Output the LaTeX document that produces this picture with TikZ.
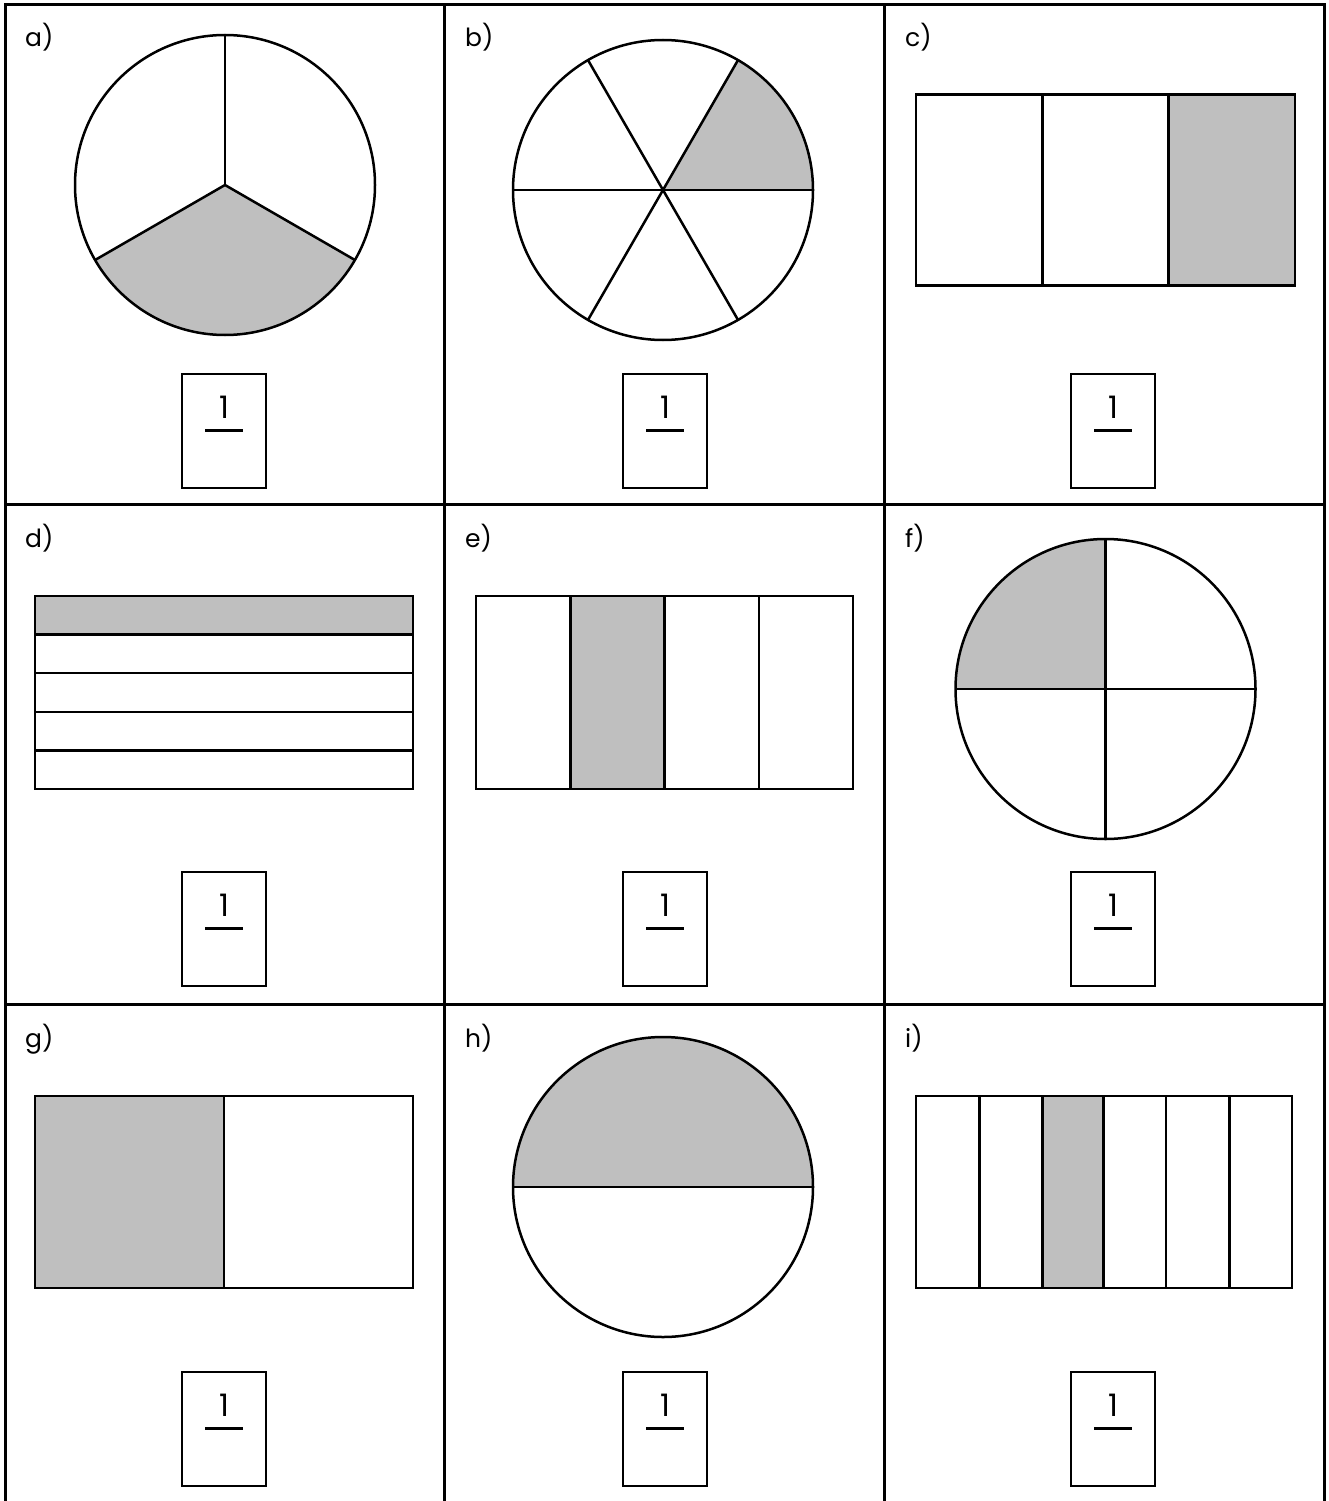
\documentclass[tikz,border=0pt]{standalone}
\usepackage{fontspec}
\setmainfont{Poppins}
\usetikzlibrary{calc}
\begin{document}
\begin{tikzpicture}[x=1pt,y=-1pt,
  grid/.style={line width=3pt},
  shp/.style={line width=2.5pt, line join=miter},
  shade/.style={fill=shadegray},
  lbl/.style={anchor=base west, inner sep=0pt, font=\fontsize{25}{30}\selectfont},
  ansbox/.style={draw, line width=2.5pt, minimum width=84pt, minimum height=114pt, inner sep=0pt},
  digit/.style={anchor=base, inner sep=0pt, font=\fontsize{31}{36}\selectfont}
]
\definecolor{shadegray}{RGB}{191,191,191}
\useasboundingbox (0,0) rectangle (1328,1501);
\fill[white] (0,0) rectangle (1328,1501);
% grid
\draw[grid] (5,1510) -- (5,5) -- (1324.5,5) -- (1324.5,1510);
\draw[grid] (444.5,5) -- (444.5,1510);
\draw[grid] (884.5,5) -- (884.5,1510);
\draw[grid] (5,504.5) -- (1324.5,504.5);
\draw[grid] (5,1004.5) -- (1324.5,1004.5);
% labels
\node[lbl] (la) at (25,47) {a)};
\node[lbl] (lb) at (465,47) {b)};
\node[lbl] (lc) at (905,47) {c)};
\node[lbl] (ld) at (25,547) {d)};
\node[lbl] (le) at (465,547) {e)};
\node[lbl] (lf) at (905,547) {f)};
\node[lbl] (lg) at (25,1047) {g)};
\node[lbl] (lh) at (465,1047) {h)};
\node[lbl] (li) at (905,1047) {i)};
% answer boxes
\foreach \cx/\nm in {224/a,665/b,1113/c}{
  \foreach \ry/\rn in {0/1,498/2,998/3}{
    \node[ansbox] (box\nm\rn) at (\cx,431+\ry) {};
    \node[digit] (dig\nm\rn) at (\cx,418+\ry) {1};
    \draw[line width=2.5pt] (\cx-19,430.5+\ry) -- (\cx+19,430.5+\ry);
  }
}
% a) thirds circle
\coordinate (ca) at (225,185);
\fill[shade] (ca) -- ++(150:150) arc[start angle=150, end angle=30, radius=150] -- cycle;
\draw[shp] (ca) circle[radius=150];
\draw[shp] (ca) -- ++(270:150);
\draw[shp] (ca) -- ++(150:150);
\draw[shp] (ca) -- ++(30:150);
% b) sixths circle
\coordinate (cb) at (663,190);
\fill[shade] (cb) -- ++(0:150) arc[start angle=0, end angle=-60, radius=150] -- cycle;
\draw[shp] (cb) circle[radius=150];
\draw[shp] ($(cb)+(0:150)$) -- ($(cb)+(180:150)$);
\draw[shp] ($(cb)+(60:150)$) -- ($(cb)+(240:150)$);
\draw[shp] ($(cb)+(120:150)$) -- ($(cb)+(300:150)$);
% c) thirds rectangle
\fill[shade] (1168.7,94.3) rectangle (1295,285.7);
\draw[shp] (916,94.3) rectangle (1295,285.7);
\draw[shp] (1042.7,94.3) -- (1042.7,285.7);
\draw[shp] (1168.7,94.3) -- (1168.7,285.7);
% d) fifths horizontal
\fill[shade] (35,596) rectangle (413,634.6);
\draw[shp] (35,596) rectangle (413,789);
\foreach \yy in {634.6,673.2,711.8,750.4}{\draw[shp] (35,\yy) -- (413,\yy);}
% e) quarters rectangle
\fill[shade] (570.25,596) rectangle (664.5,789);
\draw[shp] (476,596) rectangle (853,789);
\foreach \xx in {570.25,664.5,758.75}{\draw[shp] (\xx,596) -- (\xx,789);}
% f) quarters circle
\coordinate (cf) at (1105.5,689);
\fill[shade] (cf) -- ++(180:150) arc[start angle=180, end angle=270, radius=150] -- cycle;
\draw[shp] (cf) circle[radius=150];
\draw[shp] ($(cf)+(0:150)$) -- ($(cf)+(180:150)$);
\draw[shp] ($(cf)+(90:150)$) -- ($(cf)+(270:150)$);
% g) halves rectangle
\fill[shade] (35,1096) rectangle (224,1288);
\draw[shp] (35,1096) rectangle (413,1288);
\draw[shp] (224,1096) -- (224,1288);
% h) halves circle
\coordinate (ch) at (663,1187);
\fill[shade] (ch) ++(180:150) arc[start angle=180, end angle=360, radius=150] -- cycle;
\draw[shp] (ch) circle[radius=150];
\draw[shp] ($(ch)+(0:150)$) -- ($(ch)+(180:150)$);
% i) sixths rectangle
\fill[shade] (1042.7,1096) rectangle (1103.3,1288);
\draw[shp] (916,1096) rectangle (1292,1288);
\foreach \xx in {979.3,1042.7,1103.3,1166,1229.3}{\draw[shp] (\xx,1096) -- (\xx,1288);}
\end{tikzpicture}
\end{document}
